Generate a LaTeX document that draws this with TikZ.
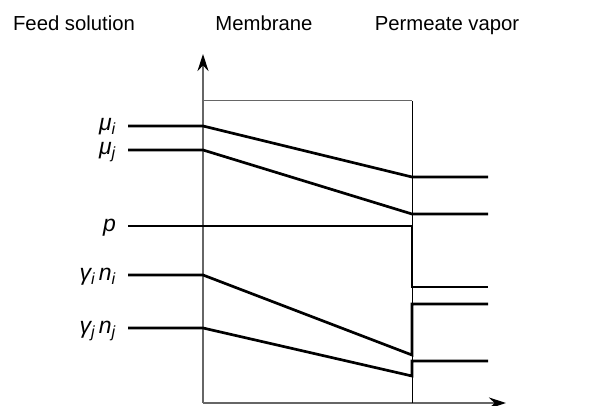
\documentclass[tikz,border=0pt]{standalone}
\usepackage{fontspec}
\setmainfont{Liberation Sans}
\usetikzlibrary{arrows.meta}
\begin{document}
\begin{tikzpicture}[x=1pt,y=-1pt,
  head/.style={font=\fontsize{20.3}{24}\selectfont, anchor=base},
  lab/.style={font=\fontsize{23}{26}\selectfont\itshape, anchor=base east, inner sep=0pt},
  prof/.style={line width=2.7pt, line join=miter},
  axis/.style={line width=1.3pt, draw=black!60, -{Stealth[length=17pt,width=11pt,black]}},
  frame/.style={line width=1pt}]
\useasboundingbox (0,0) rectangle (606,406);
% headings
\node[head] (hf) at (74,31) {Feed solution};
\node[head] (hm) at (264,31) {Membrane};
\node[head] (hp) at (447,31) {Permeate vapor};
% axes and membrane box
\coordinate (o) at (203,403);
\coordinate (yt) at (203,54);
\coordinate (xt) at (506,403);
\coordinate (bl) at (203,101);
\coordinate (br) at (412,101);
\coordinate (bb) at (412,403);
\draw[axis] (o) -- (yt);
\draw[axis] (o) -- (xt);
\draw[frame, draw=black!60] (bl) -- (br);
\draw[frame] (br) -- (bb);
% labels
\node[lab] (lmi) at (116,131) {μ\textsubscript{i}};
\node[lab] (lmj) at (116,155) {μ\textsubscript{j}};
\node[lab] (lp) at (116,232) {p};
\node[lab] (lgi) at (116,281) {γ\textsubscript{i}\,n\textsubscript{i}};
\node[lab] (lgj) at (116,334) {γ\textsubscript{j}\,n\textsubscript{j}};
% profile coordinates
\coordinate (mi0) at (128,126); \coordinate (mi1) at (203,126);
\coordinate (mi2) at (412,177); \coordinate (mi3) at (488,177);
\coordinate (mj0) at (128,150); \coordinate (mj1) at (203,150);
\coordinate (mj2) at (412,214); \coordinate (mj3) at (488,214);
\coordinate (p0) at (128,226); \coordinate (p1) at (412,226);
\coordinate (p2) at (412,287); \coordinate (p3) at (488,287);
\coordinate (gi0) at (128,275); \coordinate (gi1) at (203,275);
\coordinate (gi2) at (412,355); \coordinate (gi3) at (412,304);
\coordinate (gi4) at (488,304);
\coordinate (gj0) at (128,328); \coordinate (gj1) at (203,328);
\coordinate (gj2) at (412,376); \coordinate (gj3) at (412,361);
\coordinate (gj4) at (488,361);
% profiles
\draw[prof] (mi0) -- (mi1) -- (mi2) -- (mi3);
\draw[prof] (mj0) -- (mj1) -- (mj2) -- (mj3);
\draw[prof] (p0) -- (p1) -- (p2) -- (p3);
\draw[prof] (gi0) -- (gi1) -- (gi2) -- (gi3) -- (gi4);
\draw[prof] (gj0) -- (gj1) -- (gj2) -- (gj3) -- (gj4);
\end{tikzpicture}
\end{document}
